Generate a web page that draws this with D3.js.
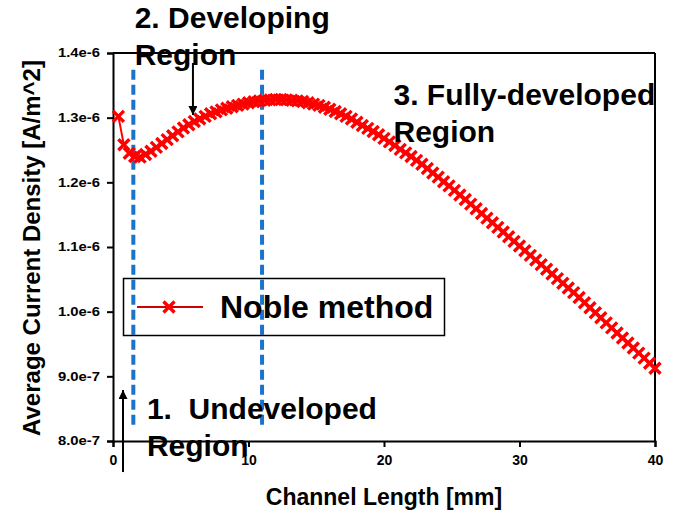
<!DOCTYPE html>
<html>
<head>
<meta charset="utf-8">
<script src="https://cdn.jsdelivr.net/npm/d3@7"></script>
<style>
  html, body { margin: 0; padding: 0; background: #ffffff; }
  svg { display: block; }
  text { font-family: Arial, "Liberation Sans", Helvetica, sans-serif; font-weight: bold; fill: #000; }
</style>
</head>
<body>
<svg id="chart" width="689" height="521"></svg>
<script>
// ---- data ----
const channelLength = [
  0.4, 0.8, 1.2, 1.6, 2.0, 2.4, 2.8, 3.2, 3.6, 4.0,
  4.4, 4.8, 5.2, 5.6, 6.0, 6.4, 6.8, 7.2, 7.6, 8.0,
  8.4, 8.8, 9.2, 9.6, 10.0, 10.4, 10.8, 11.2, 11.6, 12.0,
  12.4, 12.8, 13.2, 13.6, 14.0, 14.4, 14.8, 15.2, 15.6, 16.0,
  16.4, 16.8, 17.2, 17.6, 18.0, 18.4, 18.8, 19.2, 19.6, 20.0,
  20.4, 20.8, 21.2, 21.6, 22.0, 22.4, 22.8, 23.2, 23.6, 24.0,
  24.4, 24.8, 25.2, 25.6, 26.0, 26.4, 26.8, 27.2, 27.6, 28.0,
  28.4, 28.8, 29.2, 29.6, 30.0, 30.4, 30.8, 31.2, 31.6, 32.0,
  32.4, 32.8, 33.2, 33.6, 34.0, 34.4, 34.8, 35.2, 35.6, 36.0,
  36.4, 36.8, 37.2, 37.6, 38.0, 38.4, 38.8, 39.2, 39.6, 40.0
];
// Average current density, in units of 1e-6 A/m^2
const currentDensity = [
  1.302, 1.258, 1.245, 1.240, 1.239, 1.243, 1.248, 1.254, 1.260, 1.266,
  1.272, 1.278, 1.284, 1.289, 1.294, 1.298, 1.302, 1.306, 1.309, 1.312,
  1.3145, 1.317, 1.319, 1.321, 1.323, 1.3245, 1.326, 1.327, 1.3275, 1.328,
  1.328, 1.3275, 1.327, 1.326, 1.325, 1.323, 1.321, 1.319, 1.316, 1.313,
  1.3095, 1.306, 1.302, 1.298, 1.293, 1.288, 1.2835, 1.2785, 1.2735, 1.268,
  1.2625, 1.257, 1.251, 1.2455, 1.240, 1.234, 1.228, 1.2215, 1.2145, 1.208,
  1.201, 1.1945, 1.1875, 1.1805, 1.1735, 1.1663, 1.1591, 1.1519, 1.1447, 1.1375,
  1.1303, 1.1231, 1.1159, 1.1087, 1.1015, 1.0943, 1.0871, 1.0799, 1.0727, 1.0655,
  1.0583, 1.0511, 1.0439, 1.0367, 1.0295, 1.0219, 1.0139, 1.0061, 0.9983, 0.9905,
  0.9827, 0.9749, 0.9671, 0.9593, 0.9515, 0.9437, 0.9359, 0.9281, 0.9203, 0.9125
];
const xTicks = [0, 10, 20, 30, 40];
const yTicks = [0.8, 0.9, 1.0, 1.1, 1.2, 1.3, 1.4];
const yTickLabels = ["8.0e-7", "9.0e-7", "1.0e-6", "1.1e-6", "1.2e-6", "1.3e-6", "1.4e-6"];
const regionBoundaries = [1.5, 11];          // mm
const boundaryExtent = [0.818, 1.374];       // 1e-6 A/m^2
const seriesName = "Noble method";
const xTitle = "Channel Length [mm]";
const yTitle = "Average Current Density [A/m^2]";
const annotations = [
  { lines: ["2. Developing", "Region"], x: 1.6, y: 1.4387 },
  { lines: ["3. Fully-developed", "Region"], x: 20.7, y: 1.3196 },
  { lines: ["1.  Undeveloped", "Region"], x: 2.5, y: 0.834 }
];
const arrows = [
  { x: 5.9, from: 1.3845, to: 1.3041 },   // developing region arrow (points down)
  { x: 0.74, from: 0.752, to: 0.8789 }    // undeveloped region arrow (points up)
];

// ---- layout ----
const svg = d3.select("#chart");
const x = d3.scaleLinear().domain([0, 40]).range([113, 655]);
const y = d3.scaleLinear().domain([0.8, 1.4]).range([441, 53]);

const red = "#ff0000";
const blue = "#1a74cc";

// frame (top & right)
svg.append("line").attr("x1", x(0)).attr("x2", x(40)).attr("y1", y(1.4)).attr("y2", y(1.4))
  .attr("stroke", "#000").attr("stroke-width", 2);
svg.append("line").attr("x1", x(40)).attr("x2", x(40)).attr("y1", y(1.4)).attr("y2", y(0.8))
  .attr("stroke", "#000").attr("stroke-width", 2);

// axes
const xAxis = d3.axisBottom(x).tickValues(xTicks).tickSize(6).tickPadding(8).tickFormat(d3.format("d"));
const gx = svg.append("g").attr("transform", `translate(0,${y(0.8)})`).call(xAxis);
gx.select(".domain").attr("stroke", "#000").attr("stroke-width", 2);
gx.selectAll(".tick line").attr("stroke", "#000").attr("stroke-width", 2);
gx.selectAll(".tick text").style("font-size", "14px").style("font-weight", "bold")
  .style("font-family", "Arial, 'Liberation Sans', sans-serif").attr("fill", "#000");

const yAxis = d3.axisLeft(y).tickValues(yTicks).tickSize(6).tickPadding(7)
  .tickFormat((d, i) => yTickLabels[i]);
const gy = svg.append("g").attr("transform", `translate(${x(0)},0)`).call(yAxis);
gy.select(".domain").attr("stroke", "#000").attr("stroke-width", 2);
gy.selectAll(".tick line").attr("stroke", "#000").attr("stroke-width", 2);
gy.selectAll(".tick text").style("font-size", "12px").style("font-weight", "bold")
  .style("font-family", "Arial, 'Liberation Sans', sans-serif").attr("fill", "#000")
  .attr("textLength", 42).attr("lengthAdjust", "spacingAndGlyphs");

// axis titles
svg.append("text").attr("x", x(20)).attr("y", 505).attr("text-anchor", "middle")
  .style("font-size", "23px").text(xTitle);
svg.append("text").attr("transform", `translate(40,${(y(0.8) + y(1.4)) / 2 + 1}) rotate(-90)`)
  .attr("text-anchor", "middle").style("font-size", "24px").text(yTitle);

// region boundaries (dashed)
svg.selectAll(".boundary").data(regionBoundaries).enter().append("line")
  .attr("class", "boundary")
  .attr("x1", d => x(d)).attr("x2", d => x(d))
  .attr("y1", y(boundaryExtent[1])).attr("y2", y(boundaryExtent[0]))
  .attr("stroke", blue).attr("stroke-width", 4).attr("stroke-dasharray", "10,5");

// series
const pts = channelLength.map((c, i) => [c, currentDensity[i]]);
svg.append("path").datum(pts)
  .attr("d", d3.line().x(d => x(d[0])).y(d => y(d[1])))
  .attr("fill", "none").attr("stroke", red).attr("stroke-width", 2);

const cross = "M-5.5,-5.5L5.5,5.5M-5.5,5.5L5.5,-5.5";
svg.selectAll(".mk").data(pts).enter().append("path")
  .attr("class", "mk")
  .attr("transform", d => `translate(${x(d[0])},${y(d[1])})`)
  .attr("d", cross).attr("stroke", red).attr("stroke-width", 3.4).attr("fill", "none");

// legend
const lg = svg.append("g");
lg.append("rect").attr("x", 123.5).attr("y", 278.5).attr("width", 321).attr("height", 57)
  .attr("fill", "none").attr("stroke", "#000").attr("stroke-width", 1.5);
lg.append("line").attr("x1", 137).attr("x2", 203).attr("y1", 307).attr("y2", 307)
  .attr("stroke", "#d00000").attr("stroke-width", 2);
lg.append("path").attr("transform", "translate(169,307)").attr("d", cross)
  .attr("stroke", red).attr("stroke-width", 3.4).attr("fill", "none");
lg.append("text").attr("x", 220).attr("y", 318).style("font-size", "32px").text(seriesName);

// arrows
svg.append("defs").append("marker").attr("id", "ah")
  .attr("viewBox", "0 0 10 10").attr("refX", 10).attr("refY", 5)
  .attr("markerWidth", 9).attr("markerHeight", 9).attr("markerUnits", "userSpaceOnUse")
  .attr("orient", "auto")
  .append("path").attr("d", "M0,0L10,5L0,10Z").attr("fill", "#000");
svg.selectAll(".arrow").data(arrows).enter().append("line")
  .attr("x1", d => x(d.x)).attr("x2", d => x(d.x))
  .attr("y1", d => y(d.from)).attr("y2", d => y(d.to))
  .attr("stroke", "#000").attr("stroke-width", 2).attr("marker-end", "url(#ah)");

// annotations
annotations.forEach(a => {
  const t = svg.append("text").attr("x", x(a.x)).attr("y", y(a.y))
    .style("font-size", "30px").attr("xml:space", "preserve").style("white-space", "pre");
  a.lines.forEach((l, i) => {
    t.append("tspan").attr("x", x(a.x)).attr("dy", i === 0 ? 0 : 37).text(l);
  });
});
</script>
</body>
</html>
